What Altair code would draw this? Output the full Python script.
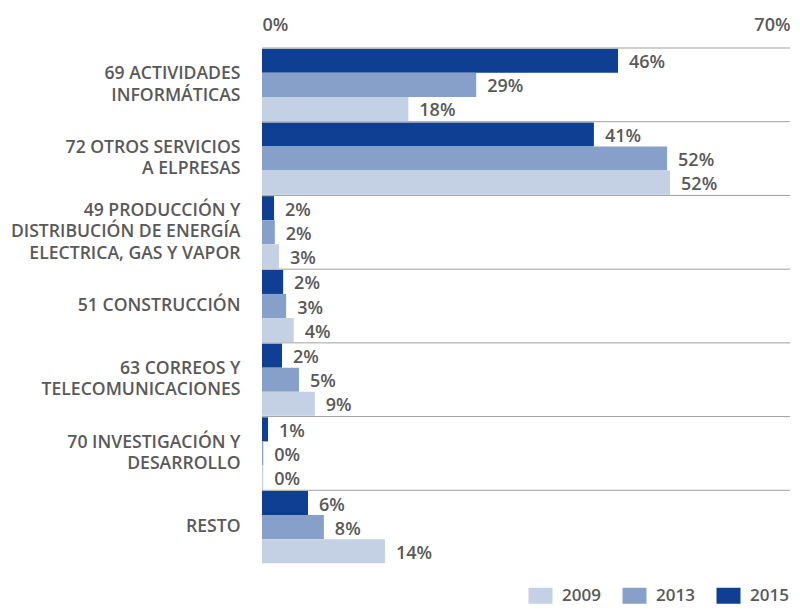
import altair as alt
import pandas as pd

categories = [
    "69 ACTIVIDADES\nINFORMÁTICAS",
    "72 OTROS SERVICIOS\nA ELPRESAS",
    "49 PRODUCCIÓN Y\nDISTRIBUCIÓN DE ENERGÍA\nELECTRICA, GAS Y VAPOR",
    "51 CONSTRUCCIÓN",
    "63 CORREOS Y\nTELECOMUNICACIONES",
    "70 INVESTIGACIÓN Y\nDESARROLLO",
    "RESTO",
]
years_order = ["2015", "2013", "2009"]
legend_years = ["2009", "2013", "2015"]
legend_colors = ["#C4D0E3", "#86A0C9", "#0F3F92"]

# bar lengths (percent, as drawn) and printed labels
values_2015 = [47.2, 44.0, 1.6, 2.8, 2.65, 0.8, 6.1]
values_2013 = [28.4, 53.7, 1.7, 3.2, 4.9, 0.17, 8.2]
values_2009 = [19.4, 54.1, 2.25, 4.2, 7.0, 0.17, 16.3]
labels_2015 = ["46%", "41%", "2%", "2%", "2%", "1%", "6%"]
labels_2013 = ["29%", "52%", "2%", "3%", "5%", "0%", "8%"]
labels_2009 = ["18%", "52%", "3%", "4%", "9%", "0%", "14%"]

rows = []
for year, vals, labs in [("2015", values_2015, labels_2015),
                         ("2013", values_2013, labels_2013),
                         ("2009", values_2009, labels_2009)]:
    for c, v, l in zip(categories, vals, labs):
        rows.append({"category": c, "year": year, "value": v, "label": l})
df = pd.DataFrame(rows)
sep_df = pd.DataFrame({"category": categories})

FONT = "Open Sans"
GREY = "#595959"
FS = 18
CFS = 17.6
LH = 21.5

y_axis = alt.Axis(
    title=None, ticks=False, domain=False, grid=False,
    labelExpr="split(datum.label, '\\n')",
    labelPadding=22, labelFontSize=CFS, labelFont=FONT, labelColor=GREY,
    labelFontWeight=600, labelLimit=0, labelLineHeight=LH,
    labelOffset={
        "condition": [
            {"test": "length(split(datum.label, '\\n')) == 3", "value": -LH},
            {"test": "length(split(datum.label, '\\n')) == 2", "value": -LH / 2},
        ],
        "value": 0,
    },
)
y_scale = alt.Scale(paddingInner=0, paddingOuter=0)

x_enc = alt.X(
    "value:Q",
    scale=alt.Scale(domain=[0, 70], nice=False),
    axis=alt.Axis(
        orient="top", values=[0, 70], title=None, ticks=False, domain=False,
        grid=False, labelExpr="datum.value + '%'",
        labelAlign={"condition": {"test": "datum.value === 0", "value": "left"}, "value": "right"},
        labelPadding=14, labelFontSize=FS, labelFont=FONT, labelColor=GREY,
        labelFontWeight=600,
    ),
)

y_off = alt.YOffset("year:N", sort=years_order,
                    scale=alt.Scale(paddingInner=0, paddingOuter=0.03))

bars = alt.Chart(df).mark_bar().encode(
    x=x_enc,
    y=alt.Y("category:N", sort=categories, scale=y_scale, axis=y_axis),
    yOffset=y_off,
    color=alt.Color(
        "year:N",
        scale=alt.Scale(domain=legend_years, range=legend_colors),
        legend=alt.Legend(
            title=None, orient="none", direction="horizontal",
            legendX=270, legendY=539, padding=0,
            symbolType="M-1.5,-1L1.5,-1L1.5,1L-1.5,1Z", symbolSize=256,
            symbolStrokeWidth=0, symbolOpacity=1,
            labelFontSize=17, labelFont=FONT, labelColor=GREY, labelFontWeight=600,
            labelOffset=13, columnPadding=21,
        ),
    ),
)

text = alt.Chart(df).mark_text(
    align="left", baseline="middle", dx=11, dy=2.5, fontSize=FS, fontWeight=600,
    color=GREY, font=FONT,
).encode(
    x=alt.X("value:Q"),
    y=alt.Y("category:N", sort=categories, scale=y_scale, axis=y_axis),
    yOffset=y_off,
    text="label:N",
)

seps = alt.Chart(sep_df).mark_rule(color="#A0A0A0", strokeWidth=1).encode(
    y=alt.Y("category:N", sort=categories, scale=y_scale, axis=y_axis, bandPosition=0),
    x=alt.value(0),
    x2=alt.value(528),
)

chart = alt.layer(bars, seps, text).properties(
    width=528, height=516,
    autosize=alt.AutoSizeParams(type="none"),
    padding={"left": 254, "top": 40, "right": 2, "bottom": 42},
).configure_view(stroke=None)

chart.save("out.html", embed_options={"renderer": "svg", "actions": False})
